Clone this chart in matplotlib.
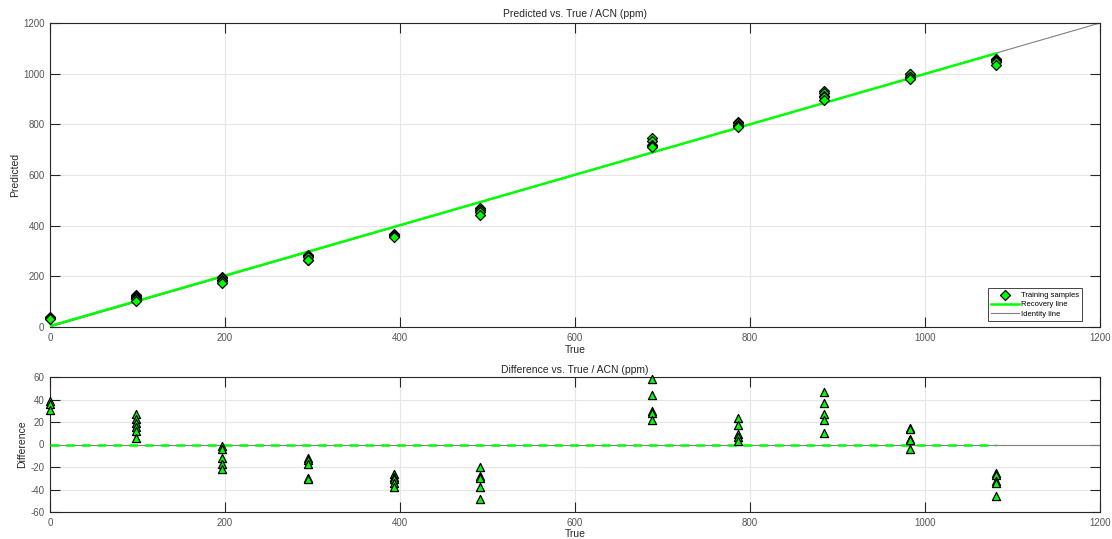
import numpy as np
import matplotlib
matplotlib.use("Agg")
import matplotlib.pyplot as plt

plt.rcParams['font.family'] = ['Liberation Sans', 'DejaVu Sans']
plt.rcParams['axes.unicode_minus'] = False

# True concentration levels (ppm)
true_levels = [0.0, 98.3, 196.7, 295.0, 393.3, 491.7, 688.3, 786.7, 885.0, 983.3, 1081.7]
# Differences (Predicted - True) for each level
diff_0 = [39, 36, 31]
diff_98 = [27, 23, 19, 16, 12, 6]
diff_197 = [-1, -4, -12, -17, -22]
diff_295 = [-12, -14, -17, -30, -31]
diff_393 = [-26, -29, -31, -34, -38]
diff_492 = [-20, -28, -30, -38, -48]
diff_688 = [58, 44, 30, 28, 22]
diff_787 = [24, 17, 9, 7, 3]
diff_885 = [47, 37, 27, 22, 10]
diff_983 = [15, 14, 5, 4, -4]
diff_1082 = [-25, -27, -32, -34, -46]
diff_groups = [diff_0, diff_98, diff_197, diff_295, diff_393, diff_492,
               diff_688, diff_787, diff_885, diff_983, diff_1082]

# Recovery line (intercept, slope) and identity line range
recovery_intercept = 4.0
recovery_slope = 0.995
identity_range = [0, 1200]

x_true = np.concatenate([[t] * len(d) for t, d in zip(true_levels, diff_groups)])
diffs = np.concatenate(diff_groups)
pred = x_true + diffs

W, H = 1112, 539
fig = plt.figure(figsize=(W / 100, H / 100), dpi=100)
ax1 = fig.add_axes([50 / W, 1 - 327 / H, 1050 / W, 304 / H])
ax2 = fig.add_axes([50 / W, 1 - 512 / H, 1050 / W, 135 / H])

green = '#00ff00'
tick_col = '#555555'

def style(ax):
    ax.grid(True, color='#e6e6e6', linewidth=0.8)
    ax.set_axisbelow(True)
    for s in ax.spines.values():
        s.set_color('#262626')
        s.set_linewidth(0.8)
    ax.tick_params(direction='in', length=7, width=0.8, top=True, right=True,
                   labelsize=7, colors='#262626', labelcolor=tick_col, pad=4)

# Top plot
xr = np.array([true_levels[0], true_levels[-1]])
ax1.plot(identity_range, identity_range, color='#808080', linewidth=0.8, label='Identity line', zorder=2)
ax1.plot(xr, recovery_intercept + recovery_slope * xr, color=green, linewidth=1.8,
         label='Recovery line', zorder=3)
ax1.scatter(x_true, pred, marker='D', s=26, facecolor=green, edgecolor='black',
            linewidth=0.9, label='Training samples', zorder=4, clip_on=False)
ax1.set_xlim(0, 1200)
ax1.set_ylim(0, 1200)
ax1.set_xticks(range(0, 1201, 200))
ax1.set_yticks(range(0, 1201, 200))
style(ax1)
ax1.set_title('Predicted vs. True / ACN (ppm)', fontsize=7.5, color='#262626', pad=4)
ax1.set_xlabel('True', fontsize=7.5, color='#262626', labelpad=2)
ax1.set_ylabel('Predicted', fontsize=7.5, color='#262626', va='center')
ax1.yaxis.set_label_coords(-0.0333, 0.5)
h, l = ax1.get_legend_handles_labels()
order = [2, 1, 0]
leg = ax1.legend([h[i] for i in order], [l[i] for i in order], loc='lower right',
                 fontsize=5.5, frameon=True, fancybox=False, edgecolor='#262626',
                 framealpha=1, borderpad=0.4, handlelength=3.6, handletextpad=0.3,
                 labelspacing=0.3, borderaxespad=0, bbox_to_anchor=(0.983, 0.02))
leg.get_frame().set_linewidth(0.6)

# Bottom plot
ax2.plot(identity_range, [0, 0], color='#808080', linewidth=0.8, zorder=2)
ax2.plot(xr, [0, 0], color=green, linewidth=1.8, linestyle=(0, (3.5, 2.8)), zorder=3)
ax2.scatter(x_true, diffs, marker='^', s=34, facecolor=green, edgecolor='black',
            linewidth=0.9, zorder=4, clip_on=False)
ax2.set_xlim(0, 1200)
ax2.set_ylim(-60, 60)
ax2.set_xticks(range(0, 1201, 200))
ax2.set_yticks(range(-60, 61, 20))
style(ax2)
ax2.set_title('Difference vs. True / ACN (ppm)', fontsize=7.5, color='#262626', pad=3)
ax2.set_xlabel('True', fontsize=7.5, color='#262626', labelpad=1)
ax2.set_ylabel('Difference', fontsize=7.5, color='#262626', va='center')
ax2.yaxis.set_label_coords(-0.0267, 0.5)

fig.savefig('out.png', dpi=100, facecolor='white')
